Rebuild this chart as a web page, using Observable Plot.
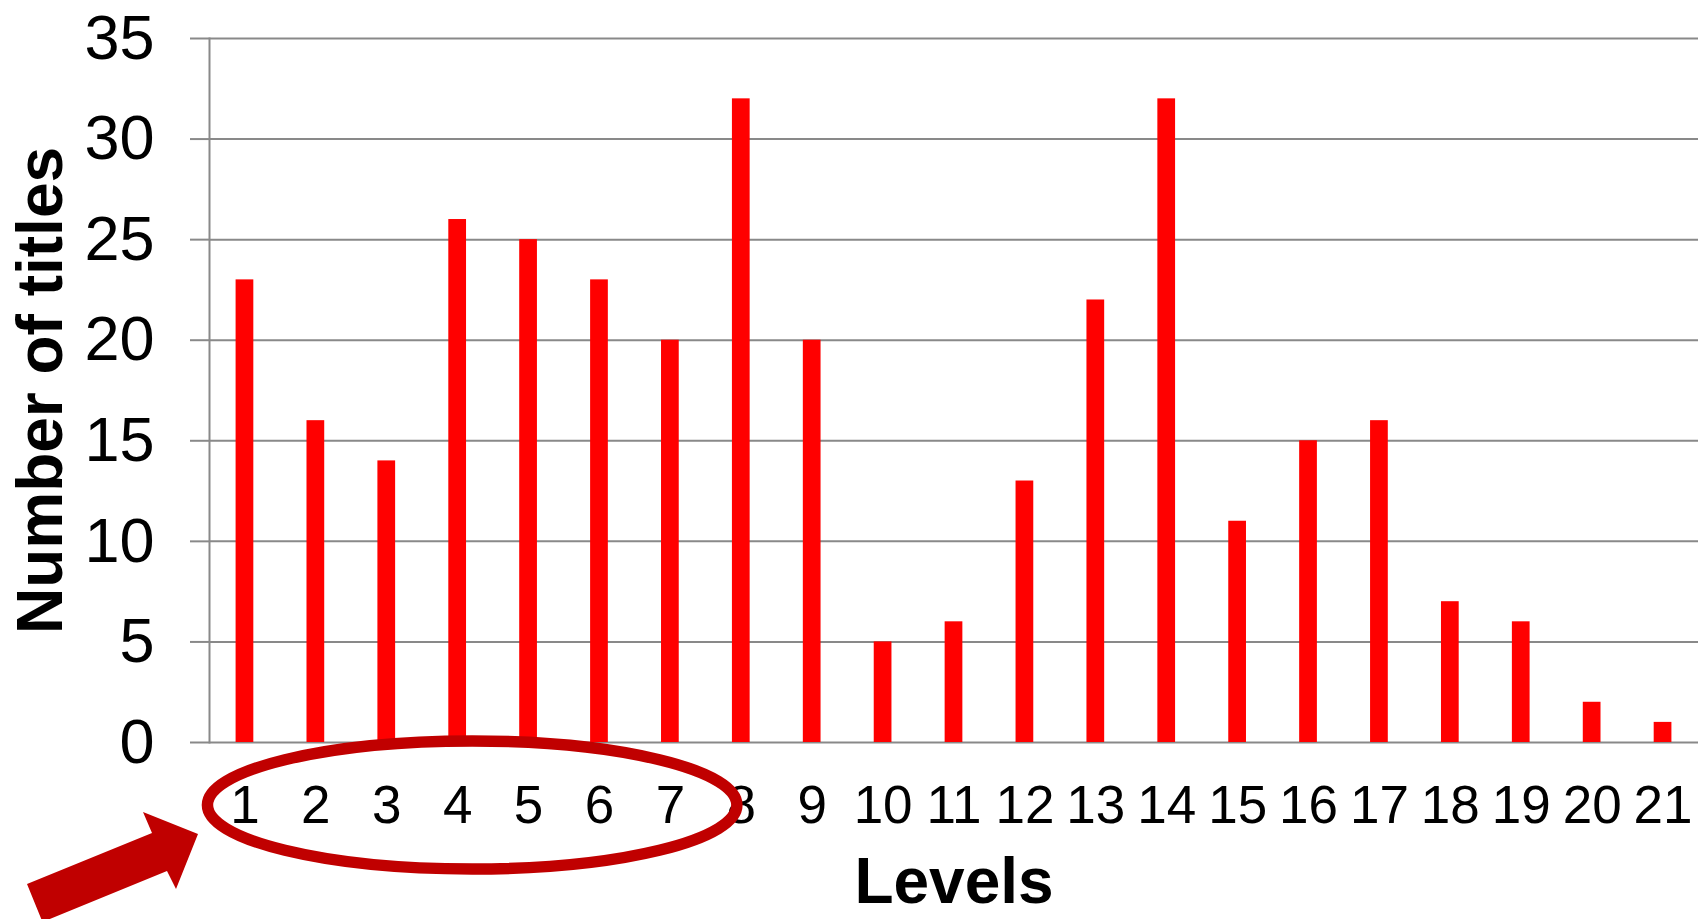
<!DOCTYPE html>
<html>
<head>
<meta charset="utf-8">
<script src="https://cdn.jsdelivr.net/npm/d3@7"></script>
<script src="https://cdn.jsdelivr.net/npm/@observablehq/plot@0.6"></script>
<style>
  html, body { margin: 0; padding: 0; background: #ffffff; }
  #chart { width: 1705px; height: 919px; overflow: hidden; }
</style>
</head>
<body>
<div id="chart"></div>
<script>
// ---- data ----
const levels = [1, 2, 3, 4, 5, 6, 7, 8, 9, 10, 11, 12, 13, 14, 15, 16, 17, 18, 19, 20, 21];
const titles = [23, 16, 14, 26, 25, 23, 20, 32, 20, 5, 6, 13, 22, 32, 11, 15, 16, 7, 6, 2, 1];
const yTicks = [0, 5, 10, 15, 20, 25, 30, 35];
const xLabel = "Levels";
const yLabel = "Number of titles";

const table = levels.map((lv, i) => ({level: lv, count: titles[i]}));

const FONT = "'Liberation Sans', Arial, Helvetica, sans-serif";
const GRAY = "#898989";

const chart = Plot.plot({
  width: 1705,
  height: 919,
  marginLeft: 209,
  marginRight: 7,
  marginTop: 38,
  marginBottom: 177,
  style: {fontFamily: FONT, fontSize: "53px", background: "#ffffff", color: "#000000"},
  x: {type: "band", domain: levels, paddingInner: 0.75, paddingOuter: 0.375, round: false, label: null},
  y: {domain: [0, 35], ticks: yTicks, label: null},
  marks: [
    Plot.gridY(yTicks, {stroke: GRAY, strokeOpacity: 1, strokeWidth: 2}),
    Plot.barY(table, {x: "level", y: "count", fill: "#ff0000"}),
    Plot.frame({anchor: "left", stroke: GRAY, strokeWidth: 2}),
    Plot.axisY(yTicks, {tickSize: 19, tickPadding: 36, fontSize: 63, stroke: GRAY, strokeWidth: 2, fill: "#000000", label: null}),
    Plot.axisX({tickSize: 0, tickPadding: 43, fontSize: 53, fill: "#000000", label: null}),
    Plot.text([yLabel], {frameAnchor: "left", dx: -167.5, rotate: -90, textAnchor: "middle", lineAnchor: "middle", fontSize: 64, fontWeight: "bold", fill: "#000000"}),
    Plot.text([xLabel], {frameAnchor: "bottom", dy: 140.5, textAnchor: "middle", lineAnchor: "middle", fontSize: 64, fontWeight: "bold", fill: "#000000"})
  ]
});

document.getElementById("chart").appendChild(chart);

// ---- annotation: ellipse around levels 1-7 and a block arrow ----
const xs = chart.scale("x");
const ys = chart.scale("y");
const c1 = xs.apply(1) + xs.bandwidth / 2;
const c7 = xs.apply(7) + xs.bandwidth / 2;
const base = ys.apply(0);
const svg = d3.select(chart);
const ann = svg.append("g").attr("class", "annotation");
ann.append("ellipse")
  .attr("cx", (c1 + c7) / 2 + 15)
  .attr("cy", base + 63)
  .attr("rx", (c7 - c1) / 2 + 52)
  .attr("ry", 64)
  .attr("fill", "none")
  .attr("stroke", "#c00000")
  .attr("stroke-width", 11.5);

const arrowPts = [[198, 834], [143, 812], [152, 833], [27, 884], [42.5, 922], [167, 871], [176, 889]];
ann.append("polygon")
  .attr("points", arrowPts.map(p => p.join(",")).join(" "))
  .attr("fill", "#c00000");
</script>
</body>
</html>
